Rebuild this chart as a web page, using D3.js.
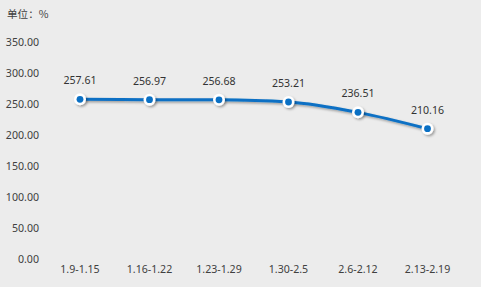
<!DOCTYPE html>
<html>
<head>
<meta charset="utf-8">
<script src="https://cdn.jsdelivr.net/npm/d3@7"></script>
<style>
  body { margin: 0; background: #fff; }
  text { font-family: "Noto Sans", "Noto Sans CJK SC", sans-serif; }
</style>
</head>
<body>
<div id="chart"></div>
<script>
const categories = ['1.9-1.15', '1.16-1.22', '1.23-1.29', '1.30-2.5', '2.6-2.12', '2.13-2.19'];
const values = [257.61, 256.97, 256.68, 253.21, 236.51, 210.16];
const yTicks = [0, 50, 100, 150, 200, 250, 300, 350];
const unitLabel = '单位：%';

const width = 481;
const height = 296;

const svg = d3.select('#chart')
    .append('svg')
    .attr('width', width)
    .attr('height', height);

// shadow filter
const defs = svg.append('defs');
const shadow = defs.append('filter')
    .attr('id', 'shadow')
    .attr('x', '-50%').attr('y', '-50%')
    .attr('width', '200%').attr('height', '200%');
shadow.append('feDropShadow')
    .attr('dx', 1.5).attr('dy', 1.5)
    .attr('stdDeviation', 1.2)
    .attr('flood-color', '#000')
    .attr('flood-opacity', 0.35);

svg.append('rect')
    .attr('width', width)
    .attr('height', 287)
    .attr('fill', '#ececec');

const x = d3.scalePoint()
    .domain(categories)
    .range([80, 427.5]);

const y = d3.scaleLinear()
    .domain([0, 350])
    .range([259, 42]);

// y axis labels
svg.append('g')
    .selectAll('text')
    .data(yTicks)
    .enter()
    .append('text')
    .attr('x', 39)
    .attr('y', d => y(d) + 4)
    .attr('text-anchor', 'end')
    .attr('fill', '#404040')
    .style('font-size', '10.6px')
    .text(d => d3.format('.2f')(d));

// x axis labels
svg.append('g')
    .selectAll('text')
    .data(categories)
    .enter()
    .append('text')
    .attr('x', d => x(d))
    .attr('y', 273)
    .attr('text-anchor', 'middle')
    .attr('fill', '#404040')
    .style('font-size', '10.6px')
    .text(d => d);

// unit
svg.append('text')
    .attr('x', 7)
    .attr('y', 18)
    .attr('fill', '#404040')
    .style('font-size', '10.6px')
    .style('font-family', '"Noto Sans CJK SC", sans-serif')
    .text(unitLabel);

// line
const line = d3.line()
    .x((d, i) => x(categories[i]))
    .y(d => y(d))
    .curve(d3.curveMonotoneX);

svg.append('path')
    .datum(values)
    .attr('d', line)
    .attr('fill', 'none')
    .attr('stroke', '#0a70c4')
    .attr('stroke-width', 3)
    .attr('filter', 'url(#shadow)');

// markers
const pts = svg.append('g')
    .selectAll('g')
    .data(values)
    .enter()
    .append('g')
    .attr('transform', (d, i) => `translate(${x(categories[i])},${y(d)})`);

pts.append('circle')
    .attr('r', 6)
    .attr('fill', '#fff')
    .attr('filter', 'url(#shadow)');

pts.append('circle')
    .attr('r', 3.4)
    .attr('fill', '#0a70c4');

// value labels
pts.append('text')
    .attr('y', -15)
    .attr('text-anchor', 'middle')
    .attr('fill', '#333')
    .style('font-size', '10.6px')
    .text(d => d3.format('.2f')(d));
</script>
</body>
</html>
